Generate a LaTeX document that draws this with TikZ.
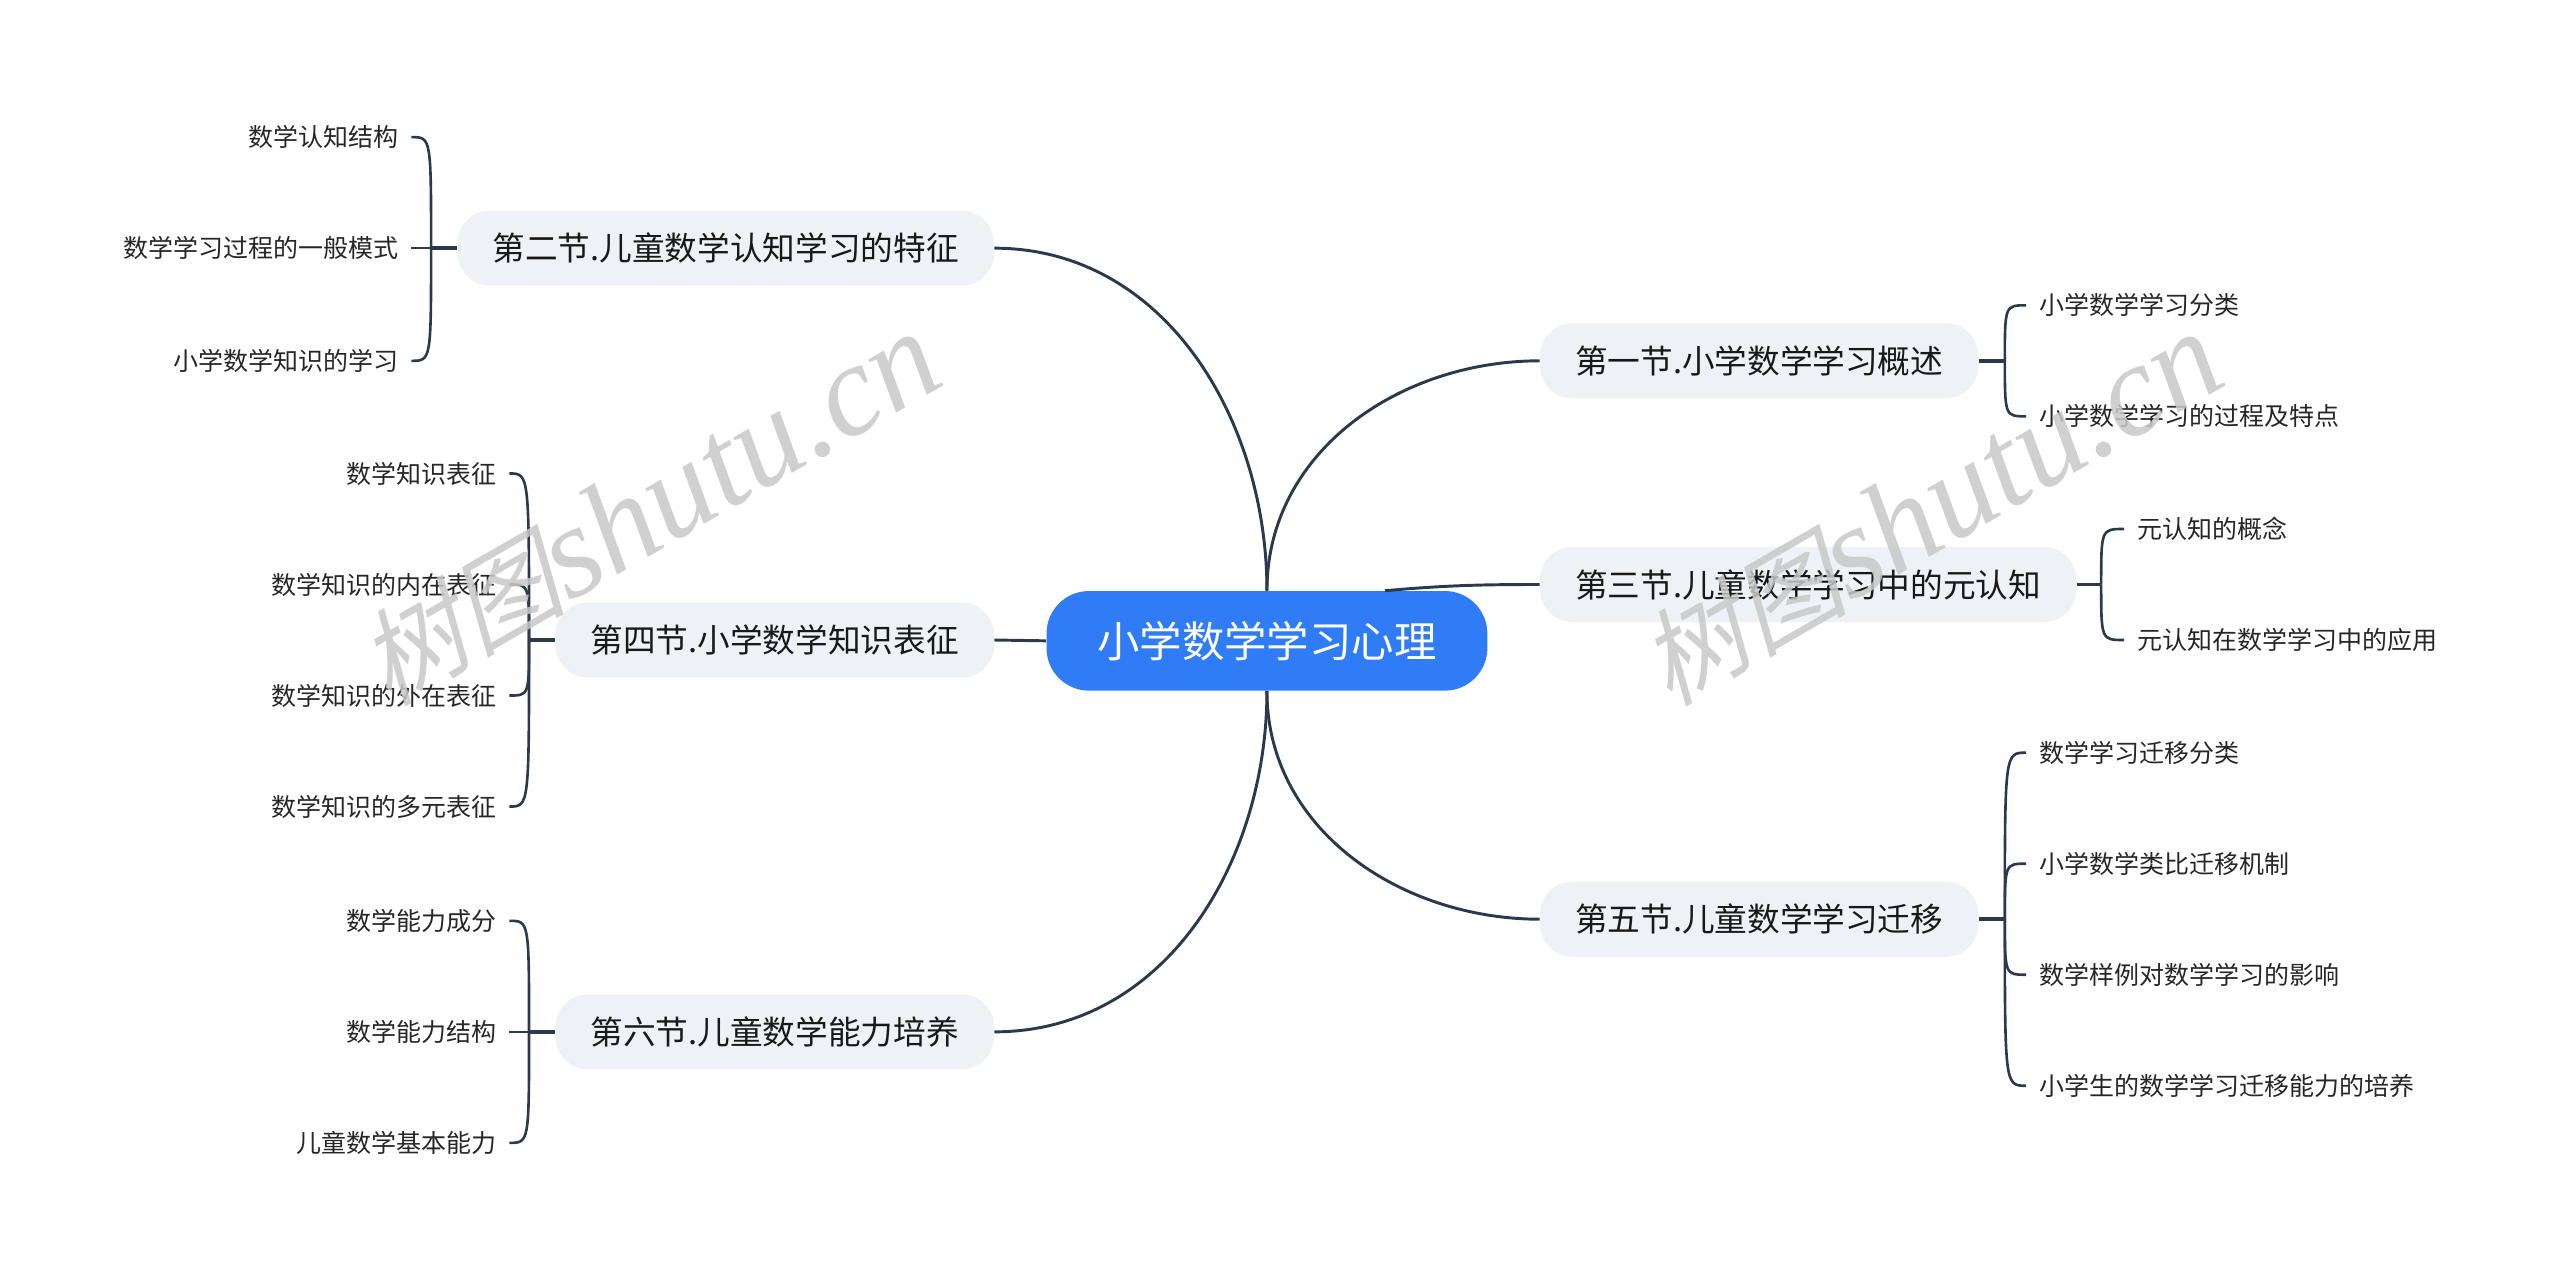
\documentclass[tikz,border=0pt]{standalone}
\usepackage{fontspec}
\setmainfont{Noto Sans CJK SC}
\newfontfamily\markcjk[FakeSlant=0.25]{Noto Sans CJK SC}
\newfontfamily\marklatin{Liberation Serif}
\usetikzlibrary{calc}
\definecolor{linkcol}{HTML}{2B394C}
\definecolor{rootblue}{HTML}{2F7CF6}
\definecolor{topicgray}{HTML}{EEF1F5}
\definecolor{markgray}{HTML}{C8C8C8}
\tikzset{
    root/.style={fill=rootblue,text=white,rounded corners=26pt,
        minimum height=61pt,inner xsep=31pt,font=\fontsize{26}{30}\selectfont},
    topic/.style={fill=topicgray,text=black!90,rounded corners=20pt,
        minimum height=46pt,inner xsep=21.5pt,font=\fontsize{20}{24}\selectfont},
    leaf/.style={inner xsep=8pt,inner ysep=2pt,text=black!85,
        font=\fontsize{15.3}{18}\selectfont},
    link/.style={draw=linkcol,line width=1.8pt},
    stub/.style={draw=linkcol,line width=2.2pt},
    brace/.style={draw=linkcol,line width=1.6pt},
    watermark/.style={text=markgray,opacity=0.85,rotate=30,inner sep=0pt}
}
\begin{document}
\begin{tikzpicture}[x=1pt,y=-1pt]
    \useasboundingbox (0,0) rectangle (1568,785);
    %% Root
    \node[root] (C) at (776,392.5) {小学数学学习心理};
    %% Sections
    \node[topic,anchor=west] (s1) at (943,221) {第一节.小学数学学习概述};
    \node[topic,anchor=east] (s2) at (609,152) {第二节.儿童数学认知学习的特征};
    \node[topic,anchor=west] (s3) at (943,358) {第三节.儿童数学学习中的元认知};
    \node[topic,anchor=east] (s4) at (609,392) {第四节.小学数学知识表征};
    \node[topic,anchor=west] (s5) at (943,563) {第五节.儿童数学学习迁移};
    \node[topic,anchor=east] (s6) at (609,632) {第六节.儿童数学能力培养};
    %% Root to sections
    \draw[link] (C.north) to[out=90,in=180] (s1.west);
    \draw[link] (C.north) to[out=90,in=0] (s2.east);
    \draw[link] (C.23) to[out=5,in=180] (s3.west);
    \draw[link] (C.west) -- (s4.east);
    \draw[link] (C.south) to[out=-90,in=180] (s5.west);
    \draw[link] (C.south) to[out=-90,in=0] (s6.east);
    %% Left leaves
    \node[leaf,anchor=east] (l21) at (252,84) {数学认知结构};
    \node[leaf,anchor=east] (l22) at (252,152) {数学学习过程的一般模式};
    \node[leaf,anchor=east] (l23) at (252,221) {小学数学知识的学习};
    \node[leaf,anchor=east] (l41) at (312,290) {数学知识表征};
    \node[leaf,anchor=east] (l42) at (312,358) {数学知识的内在表征};
    \node[leaf,anchor=east] (l43) at (312,426) {数学知识的外在表征};
    \node[leaf,anchor=east] (l44) at (312,494) {数学知识的多元表征};
    \node[leaf,anchor=east] (l61) at (312,564) {数学能力成分};
    \node[leaf,anchor=east] (l62) at (312,632) {数学能力结构};
    \node[leaf,anchor=east] (l63) at (312,700) {儿童数学基本能力};
    %% Right leaves
    \node[leaf,anchor=west] (l11) at (1241,187) {小学数学学习分类};
    \node[leaf,anchor=west] (l12) at (1241,255) {小学数学学习的过程及特点};
    \node[leaf,anchor=west] (l31) at (1301,324) {元认知的概念};
    \node[leaf,anchor=west] (l32) at (1301,392) {元认知在数学学习中的应用};
    \node[leaf,anchor=west] (l51) at (1241,461) {数学学习迁移分类};
    \node[leaf,anchor=west] (l52) at (1241,529) {小学数学类比迁移机制};
    \node[leaf,anchor=west] (l53) at (1241,597) {数学样例对数学学习的影响};
    \node[leaf,anchor=west] (l54) at (1241,665) {小学生的数学学习迁移能力的培养};
    %% Braces
    \coordinate (b1) at ($(s1.east)+(16,0)$);
    \coordinate (b2) at ($(s2.west)-(16,0)$);
    \coordinate (b3) at ($(s3.east)+(15,0)$);
    \coordinate (b4) at ($(s4.west)-(16,0)$);
    \coordinate (b5) at ($(s5.east)+(16,0)$);
    \coordinate (b6) at ($(s6.west)-(16,0)$);
    \draw[stub] (s1.east) -- (b1);
    \draw[stub] (s2.west) -- (b2);
    \draw[stub] (s3.east) -- (b3);
    \draw[stub] (s4.west) -- (b4);
    \draw[stub] (s5.east) -- (b5);
    \draw[stub] (s6.west) -- (b6);
    \foreach \b/\l in {b2/l21,b2/l22,b2/l23,b4/l41,b4/l42,b4/l43,b4/l44,
                       b6/l61,b6/l62,b6/l63}
        \draw[brace] (\l.east) .. controls (\b |- \l.east) .. (\b);
    \foreach \b/\l in {b1/l11,b1/l12,b3/l31,b3/l32,
                       b5/l51,b5/l52,b5/l53,b5/l54}
        \draw[brace] (\l.west) .. controls (\b |- \l.west) .. (\b);
    %% Watermarks
    \node[watermark] (wm1) at (397,312)
        {{\markcjk\fontsize{64}{64}\selectfont 树图}{\marklatin\itshape\fontsize{80}{80}\selectfont shutu.cn}};
    \node[watermark] (wm2) at (1182,312)
        {{\markcjk\fontsize{64}{64}\selectfont 树图}{\marklatin\itshape\fontsize{80}{80}\selectfont shutu.cn}};
\end{tikzpicture}
\end{document}
